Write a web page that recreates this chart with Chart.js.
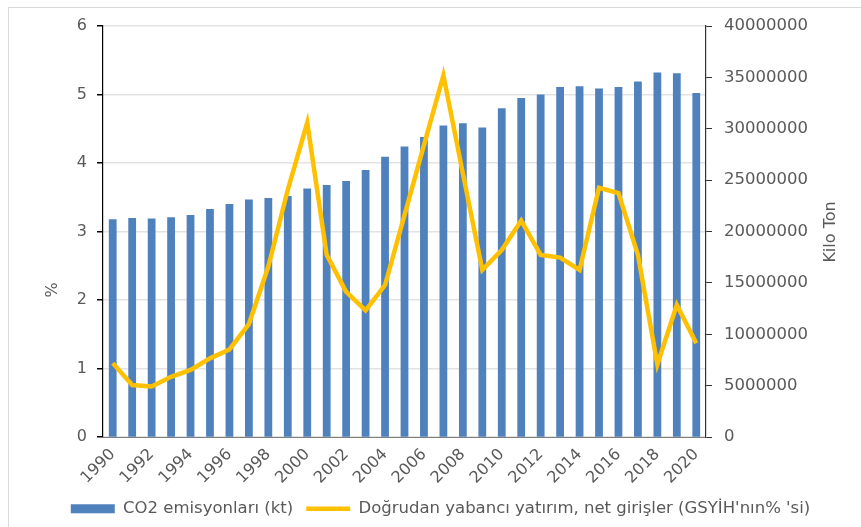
<!DOCTYPE html>
<html>
<head>
<meta charset="utf-8">
<script src="https://cdn.jsdelivr.net/npm/chart.js@4.4.1/dist/chart.umd.min.js"></script>
<style>
    html, body { margin: 0; padding: 0; background: #fff; overflow: hidden; }
    #wrap { position: relative; width: 861px; height: 527px; }
    #frame { position: absolute; left: 8px; top: 7px; width: 900px; height: 600px; border: 1px solid #d9d9d9; }
    #chartCanvas { position: absolute; left: 0; top: 0; }
</style>
</head>
<body>
<div id="wrap">
    <div id="frame"></div>
    <canvas id="chartCanvas" width="861" height="527"></canvas>
</div>
<script>
const years = ["1990", "1991", "1992", "1993", "1994", "1995", "1996", "1997", "1998", "1999",
    "2000", "2001", "2002", "2003", "2004", "2005", "2006", "2007", "2008", "2009",
    "2010", "2011", "2012", "2013", "2014", "2015", "2016", "2017", "2018", "2019", "2020"];

// CO2 emisyonları (kt) - sağ eksen
const co2Kt = [21200000, 21330000, 21270000, 21400000, 21600000, 22200000, 22670000, 23130000, 23270000, 23470000,
    24200000, 24530000, 24930000, 26000000, 27270000, 28270000, 29200000, 30330000, 30530000, 30130000,
    32000000, 33000000, 33330000, 34070000, 34130000, 33930000, 34070000, 34600000, 35470000, 35400000, 33470000];

// Doğrudan yabancı yatırım (% GSYİH) - sol eksen
const fdiPct = [1.08, 0.76, 0.74, 0.88, 0.98, 1.15, 1.28, 1.65, 2.49, 3.61,
    4.59, 2.66, 2.12, 1.85, 2.22, 3.24, 4.26, 5.28, 3.85, 2.44,
    2.73, 3.16, 2.66, 2.62, 2.44, 3.64, 3.56, 2.66, 1.06, 1.93, 1.37];

const leftTicks = { min: 0, max: 6, step: 1 };
const rightTicks = { min: 0, max: 40000000, step: 5000000 };

const textColor = "#595959";
const fontFamily = "'DejaVu Sans', sans-serif";

// eksen başlıkları: % ve Kilo Ton (aşağıdan yukarı okunur)
const axisTitles = {
    id: "axisTitles",
    afterDraw(chart) {
        const ctx = chart.ctx;
        ctx.save();
        ctx.fillStyle = textColor;
        ctx.font = "16px " + fontFamily;
        ctx.textAlign = "center";
        ctx.textBaseline = "middle";

        ctx.save();
        ctx.translate(53, 290);
        ctx.rotate(-Math.PI / 2);
        ctx.fillText("%", 0, 0);
        ctx.restore();

        ctx.save();
        ctx.translate(831, 232);
        ctx.rotate(-Math.PI / 2);
        ctx.fillText("Kilo Ton", 0, 0);
        ctx.restore();

        ctx.restore();
    }
};

const ctx = document.getElementById("chartCanvas").getContext("2d");

new Chart(ctx, {
    type: "bar",
    data: {
        labels: years,
        datasets: [
            {
                label: "CO2 emisyonları (kt)",
                data: co2Kt,
                yAxisID: "yRight",
                backgroundColor: "#4f81bd",
                borderWidth: 0,
                categoryPercentage: 1.0,
                barPercentage: 0.4,
                pointStyle: "rect",
                order: 1
            },
            {
                type: "line",
                label: "Doğrudan yabancı yatırım, net girişler (GSYİH'nın% 'si)",
                data: fdiPct,
                yAxisID: "yLeft",
                borderColor: "#ffc000",
                backgroundColor: "#ffc000",
                borderWidth: 4.5,
                pointRadius: 0,
                tension: 0,
                pointStyle: "line",
                order: 0
            }
        ]
    },
    plugins: [axisTitles],
    options: {
        responsive: false,
        animation: false,
        layout: {
            padding: { left: 20, right: 0, top: 26, bottom: 0 }
        },
        plugins: {
            tooltip: { enabled: false },
            legend: {
                position: "bottom",
                labels: {
                    color: textColor,
                    font: { family: fontFamily, size: 16.5 },
                    usePointStyle: true,
                    pointStyleWidth: 44,
                    boxHeight: 9,
                    padding: 13,
                    sort: (a, b) => a.datasetIndex - b.datasetIndex
                }
            }
        },
        scales: {
            x: {
                offset: true,
                grid: { display: false },
                border: { display: true, color: "#7f7f7f" },
                ticks: {
                    color: textColor,
                    font: { family: fontFamily, size: 16 },
                    autoSkip: false,
                    minRotation: 45,
                    maxRotation: 45,
                    padding: 0,
                    callback: (val, idx) => (idx % 2 === 0 ? years[idx] : "")
                }
            },
            yLeft: {
                position: "left",
                min: leftTicks.min,
                max: leftTicks.max,
                afterFit: (scale) => { scale.width = 83; },
                grid: { color: "#e3e3e3", lineWidth: 1.5, tickColor: "#000", tickLength: 6 },
                border: { display: true, color: "#000", width: 1.2 },
                ticks: {
                    stepSize: leftTicks.step,
                    color: textColor,
                    font: { family: fontFamily, size: 16 },
                    padding: 10
                }
            },
            yRight: {
                position: "right",
                min: rightTicks.min,
                max: rightTicks.max,
                afterFit: (scale) => { scale.width = 155; },
                grid: { drawOnChartArea: false, tickColor: "#333", tickLength: 6 },
                border: { display: true, color: "#333", width: 1.2 },
                ticks: {
                    stepSize: rightTicks.step,
                    color: textColor,
                    font: { family: fontFamily, size: 16.5 },
                    padding: 12,
                    callback: (v) => String(v)
                }
            }
        }
    }
});
</script>
</body>
</html>
